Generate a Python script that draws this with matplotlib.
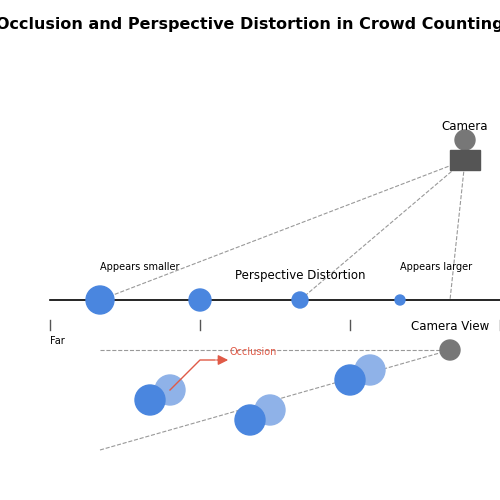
import matplotlib
matplotlib.use("Agg")
import matplotlib.pyplot as plt
from matplotlib.patches import Circle, Rectangle

line_x = [100, 200, 300, 400]
line_r = [14, 11, 8, 5]
ray_targets = [100, 300, 450]
tick_x = [50, 200, 350, 500]
pair_front = [(150, 400), (250, 420), (350, 380)]
pair_back = [(170, 390), (270, 410), (370, 370)]

fig = plt.figure(figsize=(5, 5), dpi=100)
ax = fig.add_axes([0, 0, 1, 1])
ax.set_xlim(0, 500); ax.set_ylim(500, 0); ax.axis('off')
blue = '#4a86df'; light = '#8fb2e8'; gray = '#777777'

ax.text(250, 25, 'Occlusion and Perspective Distortion in Crowd Counting', ha='center', va='center',
        fontsize=11.5, fontweight='bold')
# camera
ax.add_patch(Circle((465, 140), 10, color=gray, zorder=3))
ax.add_patch(Rectangle((450, 150), 30, 20, color='#555555', zorder=3))
ax.text(465, 126, 'Camera', ha='center', va='center', fontsize=8.5)
# perspective line
ax.plot([50, 500], [300, 300], color='black', lw=1.2)
for x, r in zip(line_x, line_r):
    ax.add_patch(Circle((x, 300), r, color=blue, zorder=3))
for x in ray_targets:
    ax.plot([465, x], [160, 300], ls='--', color='#999999', lw=0.8)
ax.text(100, 267, 'Appears smaller', fontsize=7, va='center')
ax.text(400, 267, 'Appears larger', fontsize=7, va='center')
ax.text(300, 276, 'Perspective Distortion', ha='center', va='center', fontsize=8.5)
for x in tick_x:
    ax.plot([x, x], [320, 330], color='#555555', lw=1)
ax.text(50, 341, 'Far', fontsize=7, va='center')
# camera view
ax.text(450, 326, 'Camera View', ha='center', va='center', fontsize=8.5)
ax.add_patch(Circle((450, 350), 10, color=gray, zorder=3))
ax.plot([100, 450], [350, 350], ls='--', color='#999999', lw=0.8)
ax.plot([100, 450], [450, 350], ls='--', color='#999999', lw=0.8)
for (fx, fy), (bx, by) in zip(pair_front, pair_back):
    ax.add_patch(Circle((bx, by), 15, color=light, zorder=3))
    ax.add_patch(Circle((fx, fy), 15, color=blue, zorder=4))
red = '#e05a47'
ax.plot([170, 200, 215], [390, 360, 360], color=red, lw=1, zorder=5)
ax.annotate('', xy=(231, 360), xytext=(214, 360),
            arrowprops=dict(arrowstyle='-|>', color=red, lw=1, mutation_scale=15), zorder=5)
ax.text(230, 352, 'Occlusion', color=red, fontsize=7, va='center')
fig.savefig('out.png')
